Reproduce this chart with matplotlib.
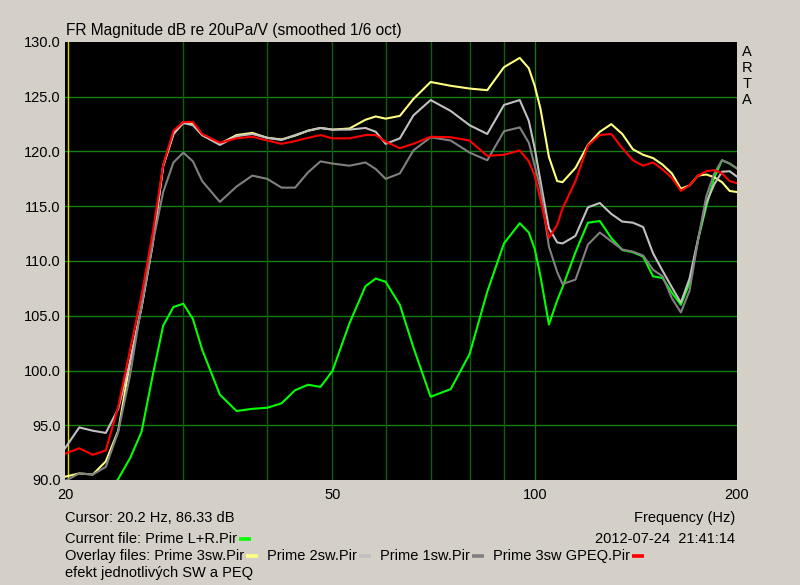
import matplotlib
matplotlib.use("Agg")
import matplotlib.pyplot as plt
from matplotlib.lines import Line2D

# ---------------- data ----------------
freq_hz = [20, 21, 22, 23, 24, 25, 26, 27, 28, 29, 30, 31, 32, 34, 36, 38, 40, 42, 44, 46,
           48, 50, 53, 56, 58, 60, 63, 66, 70, 75, 80, 85, 90, 95, 98, 100, 102, 105, 108, 110,
           115, 120, 125, 130, 135, 140, 145, 150, 155, 160, 165, 170, 175, 180, 185, 190, 195, 200]

prime_lr = [83.0, 85.0, 86.8, 88.6, 90.1, 92.0, 94.4, 99.5, 104.1, 105.8, 106.1, 104.7, 101.9, 97.8, 96.3, 96.5, 96.6, 97.0, 98.2, 98.7,
            98.5, 99.95, 104.3, 107.7, 108.4, 108.1, 106.0, 102.1, 97.6, 98.3, 101.5, 107.2, 111.6, 113.45, 112.6, 111.1, 108.6, 104.2, 106.4, 107.6,
            110.8, 113.5, 113.65, 112.1, 111.0, 110.8, 110.4, 108.6, 108.45, 107.1, 106.0, 108.0, 111.9, 115.0, 117.6, 119.2, 118.9, 118.45]

prime_3sw = [90.3, 90.6, 90.5, 91.7, 94.5, 100.8, 105.8, 111.5, 118.7, 121.6, 122.7, 122.5, 121.5, 120.7, 121.5, 121.7, 121.25, 121.1, 121.45, 121.9,
             122.15, 122.0, 122.1, 122.9, 123.2, 123.0, 123.25, 124.8, 126.35, 126.0, 125.75, 125.6, 127.7, 128.55, 127.6, 126.0, 123.9, 119.5, 117.3, 117.2,
             118.5, 120.6, 121.8, 122.5, 121.6, 120.2, 119.7, 119.4, 118.8, 118.0, 116.6, 116.9, 117.8, 117.9, 117.65, 117.2, 116.4, 116.3]

prime_2sw = [92.9, 94.8, 94.5, 94.3, 96.5, 100.8, 105.8, 111.5, 118.7, 121.6, 122.6, 122.4, 121.5, 120.6, 121.4, 121.6, 121.25, 121.05, 121.5, 121.9,
             122.15, 122.0, 122.0, 122.15, 121.8, 120.7, 121.2, 123.3, 124.7, 123.7, 122.4, 121.6, 124.25, 124.7, 122.8, 120.3, 117.3, 113.0, 111.7, 111.6,
             112.3, 114.9, 115.3, 114.3, 113.6, 113.5, 113.1, 110.7, 109.1, 107.6, 106.2, 108.4, 112.0, 115.3, 117.0, 118.15, 118.2, 117.7]

prime_1sw = [89.9, 90.6, 90.5, 91.2, 94.4, 99.6, 106.0, 111.6, 116.3, 119.0, 119.9, 119.1, 117.3, 115.4, 116.8, 117.8, 117.5, 116.7, 116.7, 118.1,
             119.1, 118.9, 118.7, 119.0, 118.4, 117.5, 118.0, 120.1, 121.3, 121.0, 119.9, 119.2, 121.85, 122.2, 120.8, 118.7, 116.6, 111.3, 109.0, 107.9,
             108.3, 111.5, 112.6, 111.8, 111.05, 110.85, 110.5, 109.2, 108.6, 106.6, 105.3, 107.3, 111.9, 115.9, 118.0, 119.2, 118.9, 118.45]

prime_3sw_gpeq = [92.4, 92.9, 92.3, 92.7, 96.7, 101.9, 106.9, 112.5, 118.8, 121.9, 122.7, 122.7, 121.6, 120.8, 121.2, 121.35, 121.0, 120.7, 120.95, 121.25,
                  121.5, 121.2, 121.2, 121.5, 121.5, 120.9, 120.3, 120.7, 121.35, 121.3, 121.0, 119.6, 119.7, 120.1, 119.1, 117.8, 115.6, 112.1, 113.3, 114.8,
                  117.3, 120.55, 121.5, 121.6, 120.3, 119.2, 118.7, 119.0, 118.35, 117.6, 116.4, 116.9, 117.8, 118.2, 118.3, 118.0, 117.3, 117.1]

y_ticks = [90, 95, 100, 105, 110, 115, 120, 125, 130]
x_ticks = [20, 50, 100, 200]
x_grid = [30, 40, 50, 60, 70, 80, 90, 100]
cursor_hz = 20.2

series = [
    ("Prime L+R.Pir", prime_lr, "#00FF00"),
    ("Prime 3sw.Pir", prime_3sw, "#FFFF80"),
    ("Prime 2sw.Pir", prime_2sw, "#C0C0C0"),
    ("Prime 1sw.Pir", prime_1sw, "#808080"),
    ("Prime 3sw GPEQ.Pir", prime_3sw_gpeq, "#FF0000"),
]

# ---------------- figure ----------------
W, H = 800, 585
BG = "#D4D0C8"
FONT = ["Liberation Sans", "DejaVu Sans"]
FS = 10.5
plt.rcParams["font.family"] = FONT

fig = plt.figure(figsize=(W / 100, H / 100), dpi=100, facecolor=BG)
ax = fig.add_axes([65 / W, 1 - 480 / H, (737 - 65) / W, (480 - 42) / H])
ax.set_facecolor("black")
ax.set_xscale("log")
ax.set_xlim(20, 200)
ax.set_ylim(90, 130)

for yv in y_ticks[1:-1]:
    ax.axhline(yv, color="#157E15", lw=1.0, zorder=1)
for xv in x_grid:
    c = "#127412" if xv == 100 else "#0C620C"
    ax.axvline(xv, color=c, lw=1.0, zorder=1)
ax.axvline(cursor_hz, color="#E0D400", lw=1.0, zorder=2)

for i, (name, vals, col) in enumerate(series):
    ax.plot(freq_hz, vals, color=col, lw=1.5, zorder=3 + i, solid_joinstyle="round")

ax.set_xticks(x_ticks)
ax.set_xticklabels([str(v) for v in x_ticks])
ax.xaxis.set_minor_locator(matplotlib.ticker.NullLocator())
ax.set_yticks(y_ticks)
ax.set_yticklabels([f"{v:.1f}" for v in y_ticks])
ax.tick_params(axis="both", length=0, labelsize=FS, colors="black")
ax.tick_params(axis="x", pad=6)
ax.tick_params(axis="y", pad=3)
for s in ax.spines.values():
    s.set_visible(False)


def ftext(x, y, s, size=FS, **kw):
    return fig.text(x / W, 1 - y / H, s, fontsize=size, color="black", va="center", **kw)


ftext(66, 30, "FR Magnitude dB re 20uPa/V (smoothed 1/6 oct)", size=11.2)
for i, ch in enumerate("ARTA"):
    ftext(747, 52 + i * 16, ch, ha="center")
ftext(65, 518, f"Cursor: {cursor_hz} Hz, 86.33 dB")
ftext(735, 518, "Frequency (Hz)", ha="right")
ftext(735, 539, "2012-07-24  21:41:14", ha="right")
ftext(65, 573, "efekt jednotlivých SW a PEQ")

fig.canvas.draw()
r = fig.canvas.get_renderer()


def marker(x0, y, col):
    fig.add_artist(Line2D([x0 / W, (x0 + 12) / W], [1 - y / H, 1 - y / H],
                          color=col, lw=2.6, transform=fig.transFigure, solid_capstyle="butt"))


t = ftext(65, 539, "Current file: " + series[0][0])
marker(t.get_window_extent(r).x1 + 2, 539, series[0][2])

x = 65
for j, (name, vals, col) in enumerate(series[1:]):
    label = ("Overlay files: " if j == 0 else "") + name
    t = ftext(x, 556, label)
    x1 = t.get_window_extent(r).x1
    marker(x1 + 2, 556, col)
    x = x1 + 23

fig.savefig("out.png", dpi=100, facecolor=BG)
